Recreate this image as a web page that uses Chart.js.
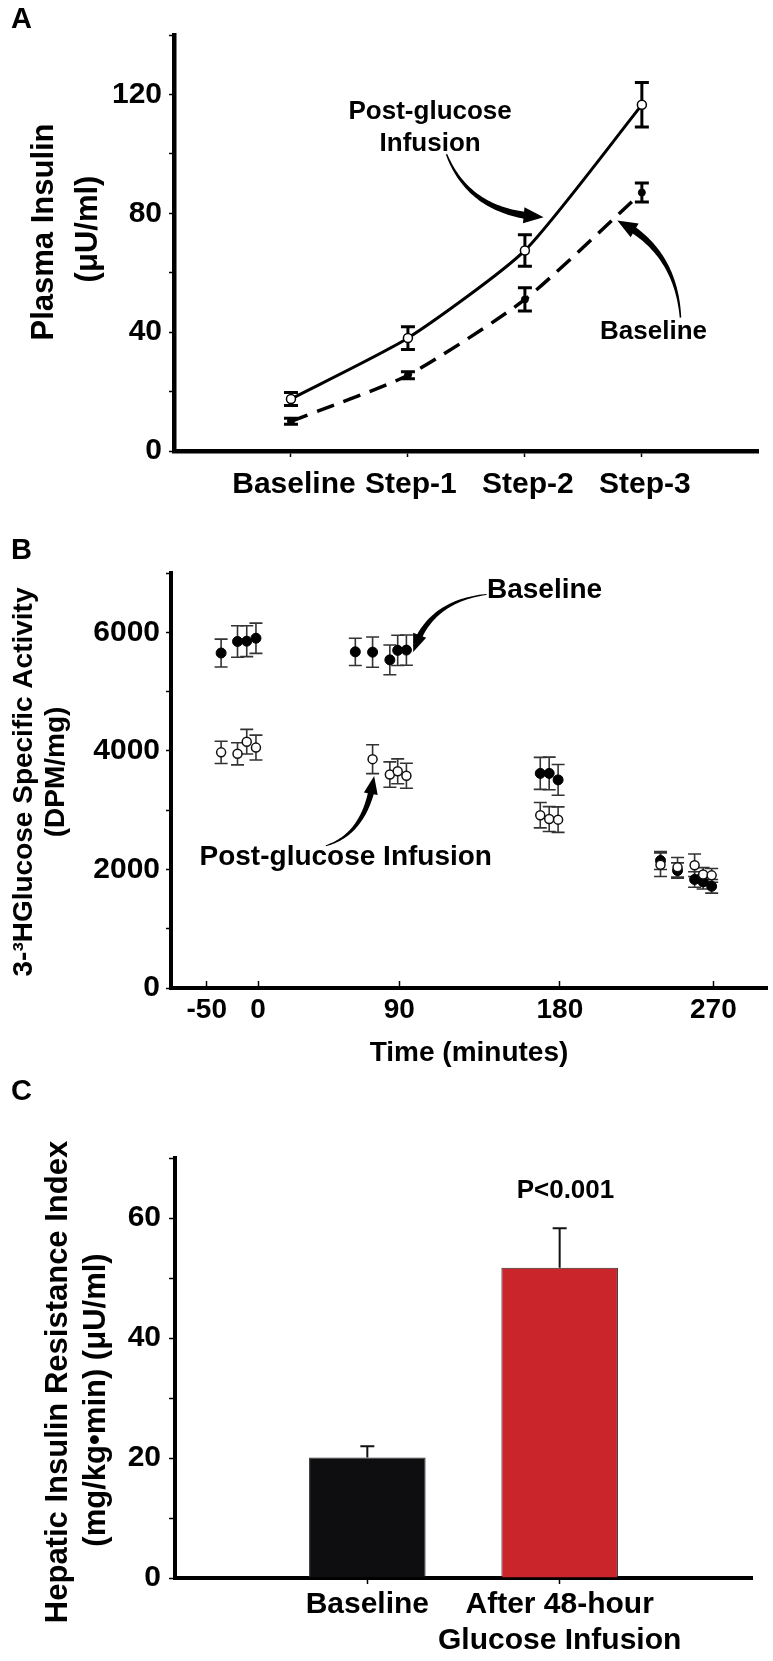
<!DOCTYPE html>
<html lang="en">
<head>
<meta charset="UTF-8">
<title>Plasma insulin, glucose specific activity and hepatic insulin resistance</title>
<script src="https://cdn.jsdelivr.net/npm/chart.js"></script>
<style>
    body { margin: 0; background: #fff; }
    #page { position: relative; width: 773px; height: 1661px; overflow: hidden; }
    #page canvas { position: absolute; left: 0; }
    .tag { position: absolute; left: 11px; font: bold 29px "Liberation Sans", Arial, sans-serif; line-height: 29px; }
</style>
</head>
<body>
<div id="page">
    <canvas id="chartA" width="773" height="530" style="top:0"></canvas>
    <canvas id="chartB" width="773" height="540" style="top:530px"></canvas>
    <canvas id="chartC" width="773" height="591" style="top:1070px"></canvas>
    <div class="tag" style="top:4px">A</div>
    <div class="tag" style="top:535px">B</div>
    <div class="tag" style="top:1076px">C</div>
</div>
<script>
// Panel A - plasma insulin per clamp step
const stepLabels = ['Baseline', 'Step-1', 'Step-2', 'Step-3'];
const insulinPost = [17.5, 38, 67.5, 116.5];
const insulinPostErr = [2.2, 3.8, 5.3, 7.5];
const insulinBase = [10, 25.5, 51, 87];
const insulinBaseErr = [1.0, 1.2, 3.9, 3.2];

// Panel B - 3-3H glucose specific activity over time
const timeTicks = [-50, 0, 90, 180, 270];
const baseTimes = [-36, -20, -11, -2, 62, 73, 84, 89, 94, 169, 174, 179, 239, 249, 259, 264, 269];
const baseSA = [5650, 5845, 5850, 5900, 5670, 5665, 5535, 5695, 5700, 3620, 3620, 3510, 2150, 1980, 1830, 1790, 1715];
const baseErr = [235, 265, 260, 255, 230, 255, 250, 255, 255, 270, 275, 260, 150, 130, 130, 120, 115];
const postTimes = [-36, -20, -11, -2, 73, 84, 89, 94, 169, 174, 179, 239, 249, 259, 264, 269];
const postSA = [3975, 3950, 4155, 4055, 3860, 3600, 3655, 3580, 2915, 2850, 2840, 2080, 2035, 2070, 1915, 1900];
const postErr = [187, 187, 207, 210, 244, 215, 210, 210, 214, 210, 215, 200, 165, 190, 115, 115];

// Panel C - hepatic insulin resistance index
const groupLabels = ['Baseline', ['After 48-hour', 'Glucose Infusion']];
const resistValues = [20.1, 51.7];
const resistErr = [1.85, 6.6];
const groupColors = ['#0e0e10', '#cb252c'];

const FONT = '"Liberation Sans", Arial, sans-serif';
Chart.defaults.font.family = FONT;
Chart.defaults.font.weight = 'bold';
Chart.defaults.font.size = 28;
Chart.defaults.color = '#000';

const pad = a => [null, ...a, null];

// the time axis in B is not evenly spaced; map it piece by piece
const timeKnots = [[-85, 0], [-50, 0.06], [0, 0.146], [90, 0.383], [180, 0.6525], [270, 0.91], [301.4, 1]];
class PiecewiseScale extends Chart.LinearScale {
    getPixelForValue(value) {
        const k = timeKnots;
        let i = 1;
        while (i < k.length - 1 && value > k[i][0]) i++;
        const f = k[i - 1][1] + (value - k[i - 1][0]) / (k[i][0] - k[i - 1][0]) * (k[i][1] - k[i - 1][1]);
        return this.getPixelForDecimal(f);
    }
    getValueForPixel(pixel) {
        const k = timeKnots;
        const f = this.getDecimalForPixel(pixel);
        let i = 1;
        while (i < k.length - 1 && f > k[i][1]) i++;
        return k[i - 1][0] + (f - k[i - 1][1]) / (k[i][1] - k[i - 1][1]) * (k[i][0] - k[i - 1][0]);
    }
}
PiecewiseScale.id = 'piecewise';
PiecewiseScale.defaults = Chart.LinearScale.defaults;
Chart.register(PiecewiseScale);

function drawErrorBars(chart, o) {
    const ctx = chart.ctx;
    ctx.save();
    ctx.strokeStyle = o.color;
    ctx.lineWidth = o.width;
    chart.data.datasets.forEach((ds, di) => {
        if (!ds.errors) return;
        const meta = chart.getDatasetMeta(di);
        const ys = chart.scales[meta.yAxisID];
        meta.data.forEach((el, i) => {
            const raw = ds.data[i];
            const v = raw !== null && typeof raw === 'object' ? raw.y : raw;
            const e = ds.errors[i];
            if (v == null || e == null) return;
            const x = el.x;
            const top = ys.getPixelForValue(v + e);
            const bot = ys.getPixelForValue(o.upOnly ? v : v - e);
            ctx.beginPath();
            ctx.moveTo(x, top); ctx.lineTo(x, bot);
            ctx.moveTo(x - o.cap / 2, top); ctx.lineTo(x + o.cap / 2, top);
            if (!o.upOnly) { ctx.moveTo(x - o.cap / 2, bot); ctx.lineTo(x + o.cap / 2, bot); }
            ctx.stroke();
        });
    });
    ctx.restore();
}
const errorBarPlugin = o => ({
    id: 'errorBars',
    beforeDatasetsDraw(chart) { if (!o.front) drawErrorBars(chart, o); },
    afterDatasetsDraw(chart) { if (o.front) drawErrorBars(chart, o); }
});

// curved arrow that gets thicker towards its head
function swoosh(ctx, p0, p1, p2, a) {
    const q = t => [(1 - t) * (1 - t) * p0[0] + 2 * (1 - t) * t * p1[0] + t * t * p2[0],
                    (1 - t) * (1 - t) * p0[1] + 2 * (1 - t) * t * p1[1] + t * t * p2[1]];
    const d = t => [2 * (1 - t) * (p1[0] - p0[0]) + 2 * t * (p2[0] - p1[0]),
                    2 * (1 - t) * (p1[1] - p0[1]) + 2 * t * (p2[1] - p1[1])];
    let len = 0, prev = p0;
    for (let i = 1; i <= 40; i++) { const p = q(i / 40); len += Math.hypot(p[0] - prev[0], p[1] - prev[1]); prev = p; }
    const tEnd = Math.max(0.5, 1 - a.headLen * 0.8 / len);
    const L = [], R = [], n = 40;
    for (let i = 0; i <= n; i++) {
        const t = tEnd * i / n, p = q(t), dv = d(t);
        const m = Math.hypot(dv[0], dv[1]) || 1;
        const nx = -dv[1] / m, ny = dv[0] / m;
        const w = (a.w0 + (a.w1 - a.w0) * i / n) / 2;
        L.push([p[0] + nx * w, p[1] + ny * w]);
        R.push([p[0] - nx * w, p[1] - ny * w]);
    }
    ctx.beginPath();
    L.forEach((p, i) => i ? ctx.lineTo(p[0], p[1]) : ctx.moveTo(p[0], p[1]));
    R.reverse().forEach(p => ctx.lineTo(p[0], p[1]));
    ctx.closePath();
    ctx.fill();
    const b = q(tEnd);
    let ux = p2[0] - b[0], uy = p2[1] - b[1];
    const um = Math.hypot(ux, uy) || 1; ux /= um; uy /= um;
    const bx = p2[0] - ux * a.headLen, by = p2[1] - uy * a.headLen;
    ctx.beginPath();
    ctx.moveTo(p2[0], p2[1]);
    ctx.lineTo(bx - uy * a.headW / 2, by + ux * a.headW / 2);
    ctx.lineTo(bx + uy * a.headW / 2, by - ux * a.headW / 2);
    ctx.closePath();
    ctx.fill();
}

// annotations (in data units) and rotated y-axis titles (in canvas pixels)
const notesPlugin = cfg => ({
    id: 'notes',
    afterDraw(chart) {
        const ctx = chart.ctx, xs = chart.scales.x, ys = chart.scales.y;
        const px = p => [xs.getPixelForValue(p[0]), ys.getPixelForValue(p[1])];
        ctx.save();
        ctx.fillStyle = '#000';
        (cfg.arrows || []).forEach(a => swoosh(ctx, px(a.from), px(a.ctrl), px(a.to), a));
        ctx.textAlign = 'center';
        ctx.textBaseline = 'middle';
        (cfg.texts || []).forEach(t => {
            ctx.font = 'bold ' + t.size + 'px ' + FONT;
            const p = px([t.x, t.y]);
            ctx.fillText(t.text, p[0], p[1]);
        });
        (cfg.titles || []).forEach(l => {
            ctx.save();
            ctx.translate(l.x, l.y);
            ctx.rotate(-Math.PI / 2);
            ctx.font = 'bold ' + l.size + 'px ' + FONT;
            ctx.fillText(l.text, 0, 0);
            ctx.restore();
        });
        ctx.restore();
    }
});

const axisBorder = w => ({ display: true, color: '#000', width: w });
const hideEdge = last => c => (c.index === 0 || c.index === last) ? 'rgba(0,0,0,0)' : '#000';
const base = {
    responsive: false,
    animation: false,
    events: [],
    plugins: { legend: { display: false }, tooltip: { enabled: false } }
};

// ---------- A ----------
new Chart(document.getElementById('chartA'), {
    type: 'line',
    data: {
        labels: ['', ...stepLabels, ' '],
        datasets: [
            {
                label: 'Post-glucose Infusion', data: pad(insulinPost), errors: pad(insulinPostErr),
                borderColor: '#000', borderWidth: 3, tension: 0.2,
                pointRadius: 4.5, pointBackgroundColor: '#fff', pointBorderColor: '#000', pointBorderWidth: 1.5
            },
            {
                label: 'Baseline', data: pad(insulinBase), errors: pad(insulinBaseErr),
                borderColor: '#000', borderWidth: 3.5, borderDash: [18, 10], tension: 0.2,
                pointRadius: 3.5, pointBackgroundColor: '#000', pointBorderColor: '#000', pointBorderWidth: 1
            }
        ]
    },
    options: {
        ...base,
        layout: { padding: { top: 35, right: 4, bottom: 0, left: 0 } },
        scales: {
            x: {
                offset: false,
                afterFit: s => { s.height = 79; },
                border: axisBorder(4.5),
                grid: { drawOnChartArea: false, tickLength: 6, tickWidth: 1.5, tickColor: hideEdge(5) },
                ticks: { autoSkip: false, maxRotation: 0, padding: 10, labelOffset: 3, font: { size: 30 } }
            },
            y: {
                min: 0, max: 140,
                afterFit: s => { s.width = 174; },
                border: axisBorder(4.5),
                grid: { drawOnChartArea: false, tickLength: 5, tickWidth: 1.5, tickColor: '#000' },
                ticks: { stepSize: 20, padding: 7, font: { size: 30 }, callback: v => v % 40 === 0 ? String(v) : '' }
            }
        }
    },
    plugins: [
        errorBarPlugin({ color: '#000', width: 3, cap: 14, front: false }),
        notesPlugin({
            texts: [
                { text: 'Post-glucose', x: 2.19, y: 114, size: 26 },
                { text: 'Infusion', x: 2.19, y: 103.3, size: 26 },
                { text: 'Baseline', x: 4.1, y: 40.2, size: 26 }
            ],
            arrows: [
                { from: [2.33, 99.9], ctrl: [2.53, 79.7], to: [3.16, 78.7], w0: 1.5, w1: 7, headLen: 20, headW: 16 },
                { from: [4.33, 44.9], ctrl: [4.29, 67.8], to: [3.79, 77.6], w0: 1.5, w1: 7, headLen: 20, headW: 16 }
            ],
            titles: [
                { text: 'Plasma Insulin', x: 44, y: 232, size: 31 },
                { text: '(μU/ml)', x: 88, y: 229, size: 31 }
            ]
        })
    ]
});

// ---------- B ----------
new Chart(document.getElementById('chartB'), {
    type: 'scatter',
    data: {
        datasets: [
            {
                label: 'Post-glucose Infusion', data: postTimes.map((t, i) => ({ x: t, y: postSA[i] })), errors: postErr,
                pointRadius: 4.5, pointBackgroundColor: '#fff', pointBorderColor: '#111', pointBorderWidth: 1.5
            },
            {
                label: 'Baseline', data: baseTimes.map((t, i) => ({ x: t, y: baseSA[i] })), errors: baseErr,
                pointRadius: 5, pointBackgroundColor: '#000', pointBorderColor: '#000', pointBorderWidth: 1
            }
        ]
    },
    options: {
        ...base,
        layout: { padding: { top: 43, right: 2, bottom: 0, left: 0 } },
        scales: {
            x: {
                type: 'piecewise', min: -85, max: 301.4,
                afterBuildTicks: s => { s.ticks = timeTicks.map(v => ({ value: v })); },
                afterFit: s => { s.height = 82; },
                border: axisBorder(4),
                // tick marks on this axis point up into the plot
                grid: { drawOnChartArea: false, tickLength: -7, tickWidth: 1.5, tickColor: '#000' },
                ticks: { autoSkip: false, maxRotation: 0, padding: 12, font: { size: 28 }, callback: v => String(v) },
                title: { display: true, text: 'Time (minutes)', font: { size: 28 }, padding: { top: 0, bottom: 0 } }
            },
            y: {
                min: 0, max: 7000,
                afterFit: s => { s.width = 171; },
                border: axisBorder(4),
                grid: { drawOnChartArea: false, tickLength: 5, tickWidth: 1.5, tickColor: '#000' },
                ticks: { stepSize: 1000, padding: 6, font: { size: 30 }, callback: v => v % 2000 === 0 ? String(v) : '' }
            }
        }
    },
    plugins: [
        errorBarPlugin({ color: '#333', width: 1.6, cap: 13, front: false }),
        notesPlugin({
            texts: [
                { text: 'Baseline', x: 171.4, y: 6706, size: 28 },
                { text: 'Post-glucose Infusion', x: 55.9, y: 2213, size: 28 }
            ],
            arrows: [
                { from: [138.9, 6638], ctrl: [106.2, 6519], to: [97.8, 5668], w0: 1, w1: 6, headLen: 18, headW: 14 },
                { from: [43.2, 2400], ctrl: [69.1, 2604], to: [74, 3574], w0: 1, w1: 6, headLen: 18, headW: 14 }
            ],
            titles: [
                { text: '3-³HGlucose Specific Activity', x: 24, y: 252, size: 28 },
                { text: '(DPM/mg)', x: 56, y: 242, size: 28 }
            ]
        })
    ]
});

// ---------- C ----------
new Chart(document.getElementById('chartC'), {
    type: 'bar',
    data: {
        labels: ['', ...groupLabels, ' '],
        datasets: [{
            label: 'Hepatic Insulin Resistance Index', data: pad(resistValues), errors: pad(resistErr),
            backgroundColor: ['#fff', ...groupColors, '#fff'], borderColor: '#2a2a2a', borderWidth: 1,
            barPercentage: 0.606, categoryPercentage: 1
        }]
    },
    options: {
        ...base,
        layout: { padding: { top: 88, right: 21, bottom: 0, left: 0 } },
        scales: {
            x: {
                offset: false,
                afterFit: s => { s.height = 83; },
                border: axisBorder(4),
                grid: { offset: false, drawOnChartArea: false, tickLength: 6, tickWidth: 1.5, tickColor: hideEdge(3) },
                ticks: { autoSkip: false, maxRotation: 0, padding: 3, font: { size: 30 } }
            },
            y: {
                min: 0, max: 70,
                afterFit: s => { s.width = 175; },
                border: axisBorder(4),
                grid: { drawOnChartArea: false, tickLength: 6, tickWidth: 1.5, tickColor: '#000' },
                ticks: { stepSize: 10, padding: 8, font: { size: 30 }, callback: v => v % 20 === 0 ? String(v) : '' }
            }
        }
    },
    plugins: [
        errorBarPlugin({ color: '#111', width: 2, cap: 14, front: true, upOnly: true }),
        notesPlugin({
            texts: [{ text: 'P<0.001', x: 2.03, y: 64.5, size: 26 }],
            titles: [
                { text: 'Hepatic Insulin Resistance Index', x: 58, y: 312, size: 31 },
                { text: '(mg/kg•min) (μU/ml)', x: 96, y: 330, size: 31 }
            ]
        })
    ]
});
</script>
</body>
</html>
